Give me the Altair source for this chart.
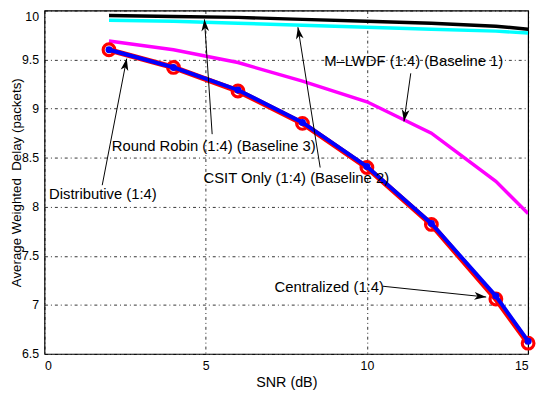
import math
import altair as alt
import pandas as pd

snr = [2, 4, 6, 8, 10, 12, 14, 15]
centralized = [9.60, 9.42, 9.18, 8.85, 8.40, 7.82, 7.06, 6.61]
distributive = [9.60, 9.42, 9.19, 8.86, 8.41, 7.83, 7.09, 6.63]
mlwdf = [9.69, 9.60, 9.47, 9.28, 9.07, 8.75, 8.26, 7.93]
round_robin = [9.95, 9.94, 9.93, 9.91, 9.89, 9.87, 9.84, 9.81]
csit_only = [9.90, 9.89, 9.87, 9.85, 9.83, 9.81, 9.79, 9.77]

ann_text = ["M\u2013LWDF (1:4) (Baseline 1)", "Round Robin (1:4) (Baseline 3)",
            "CSIT Only (1:4) (Baseline 2)", "Distributive (1:4)", "Centralized (1:4)"]
ann_tx = [11.45, 5.25, 7.81, 1.81, 8.83]
ann_ty = [9.48, 8.62, 8.29, 8.13, 7.18]
arr_x0 = [11.36, 5.20, 8.55, 1.79, 10.50]
arr_y0 = [9.36, 8.74, 8.40, 8.22, 7.19]
arr_x1 = [11.15, 4.96, 7.86, 2.55, 13.70]
arr_y1 = [8.87, 9.91, 9.83, 9.51, 7.08]

x_ticks = [0, 5, 10, 15]
y_ticks = [6.5, 7, 7.5, 8, 8.5, 9, 9.5, 10]

W, H = 490, 348
XD, YD = (0, 15), (6.5, 10)
FONT = "Liberation Sans"

xs = alt.Scale(domain=list(XD), nice=False, zero=False)
ys = alt.Scale(domain=list(YD), nice=False, zero=False)

def frame(vals):
    return pd.DataFrame({"snr": snr, "v": vals})

def line(vals, color, width):
    return alt.Chart(frame(vals)).mark_line(color=color, strokeWidth=width, clip=True).encode(
        x=alt.X("snr:Q", scale=xs), y=alt.Y("v:Q", scale=ys))

axes = alt.Chart(pd.DataFrame({"snr": [0], "v": [6.5]})).mark_point(opacity=0).encode(
    x=alt.X("snr:Q", scale=xs, title="SNR (dB)",
            axis=alt.Axis(values=x_ticks, format="d", grid=True, labelPadding=6,
                          titlePadding=3)),
    y=alt.Y("v:Q", scale=ys, title="Average Weighted\u00a0 Delay (packets)",
            axis=alt.Axis(values=y_ticks, grid=True, labelPadding=6,
                          titleX=-21, titleFontSize=13.5,
                          labelBaseline={"condition": {"test": "datum.value == 10", "value": "top"},
                                         "value": "middle"},
                          labelExpr="datum.value == 10 || datum.value == 9 || datum.value == 8 || datum.value == 7 ? format(datum.value, 'd') : format(datum.value, '.1f')")),
)

rr = line(round_robin, "black", 3.5)
cs = line(csit_only, "#00ffff", 3.5)
ml = line(mlwdf, "#ff00ff", 3.5)
ce_line = line(centralized, "red", 5.5)
ce_pts = alt.Chart(frame(centralized)).mark_point(
    shape="circle", filled=False, color="red", strokeWidth=3.2, size=140, opacity=1).encode(
    x=alt.X("snr:Q", scale=xs), y=alt.Y("v:Q", scale=ys))
di_line = line(distributive, "#0000ff", 4)
di_pts = alt.Chart(frame(distributive)).mark_point(
    shape="circle", filled=True, color="#0000ff", size=50, opacity=1).encode(
    x=alt.X("snr:Q", scale=xs), y=alt.Y("v:Q", scale=ys))

# arrows
kx = W / (XD[1] - XD[0])
ky = H / (YD[1] - YD[0])
angles = []
for a, b, c, d in zip(arr_x0, arr_y0, arr_x1, arr_y1):
    dx = (c - a) * kx
    dy = -(d - b) * ky
    angles.append((math.degrees(math.atan2(dx, -dy)) + 360) % 360)

seg = pd.DataFrame({"x0": arr_x0, "y0": arr_y0, "x1": arr_x1, "y1": arr_y1, "ang": angles})
arrow_lines = alt.Chart(seg).mark_rule(color="black", strokeWidth=1).encode(
    x=alt.X("x0:Q", scale=xs), y=alt.Y("y0:Q", scale=ys), x2="x1:Q", y2="y1:Q")
arrow_heads = alt.Chart(seg).mark_point(
    shape="M0,0 L0.55,1.7 L0,1.25 L-0.55,1.7 Z", filled=True, color="black",
    size=200, opacity=1, strokeWidth=0).encode(
    x=alt.X("x1:Q", scale=xs), y=alt.Y("y1:Q", scale=ys),
    angle=alt.Angle("ang:Q", scale=None))

txt = pd.DataFrame({"t": ann_text, "x": ann_tx, "y": ann_ty})
labels = alt.Chart(txt).mark_text(font=FONT, fontSize=15, color="black", align="center",
                                  baseline="middle").encode(
    x=alt.X("x:Q", scale=xs), y=alt.Y("y:Q", scale=ys), text="t:N")

chart = alt.layer(axes, rr, cs, ml, ce_line, ce_pts, di_line, di_pts,
                  arrow_lines, arrow_heads, labels).properties(
    width=W, height=H,
    autosize=alt.AutoSizeParams(type="none"),
    padding={"left": 37, "top": 0, "right": 8, "bottom": 38},
).configure_view(stroke="black", strokeWidth=1.2).configure_axis(
    labelFont=FONT, titleFont=FONT, labelFontSize=12.5, titleFontSize=14.5,
    titleFontWeight="normal", labelColor="black", titleColor="black",
    domain=False, ticks=False,
    gridColor="black", gridOpacity=1, gridDash=[3, 3, 1, 3], gridWidth=0.8,
)

chart.save("out.html", embed_options={"renderer": "svg", "actions": False})
